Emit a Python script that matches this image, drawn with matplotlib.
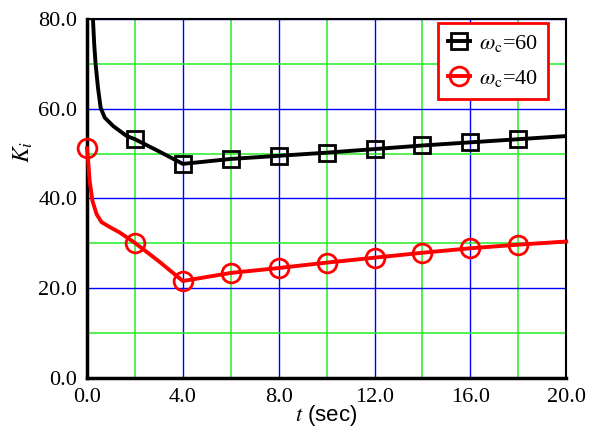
import matplotlib.pyplot as plt
import numpy as np

plt.rcParams['font.family'] = ['Liberation Serif', 'DejaVu Serif']
plt.rcParams['mathtext.fontset'] = 'stix'

# gain K_i over time for two cutoff frequencies
t_60 = [0.24, 0.3, 0.36, 0.46, 0.57, 0.74, 1.1, 1.66, 2, 3, 4,
        6, 8, 10, 12, 14, 16, 18, 20]
k_60 = [81, 74.5, 69.9, 64.6, 60.2, 58.0, 56.1, 53.9, 53.2, 50.5, 47.7,
        48.8, 49.5, 50.2, 51.0, 51.8, 52.5, 53.2, 53.9]

t_40 = [0, 0.05, 0.11, 0.23, 0.4, 0.61, 0.96, 1.37, 2, 3, 4,
        6, 8, 10, 12, 14, 16, 18, 20]
k_40 = [51.2, 48.3, 43.9, 39.4, 36.5, 34.7, 33.6, 32.4, 30.1, 26.0, 21.6,
        23.4, 24.5, 25.7, 26.8, 27.9, 28.9, 29.7, 30.4]

mark_t_60 = [2, 4, 6, 8, 10, 12, 14, 16, 18]
mark_t_40 = [0, 2, 4, 6, 8, 10, 12, 14, 16, 18]

x_ticks = [0, 4, 8, 12, 16, 20]
y_ticks = [0, 20, 40, 60, 80]

fig = plt.figure(figsize=(6.02, 4.30), dpi=100)
ax = fig.add_axes([0.1445, 0.121, 0.796, 0.835])

ax.set_xlim(0, 20)
ax.set_ylim(0, 80)
ax.set_xticks(x_ticks)
ax.set_yticks(y_ticks)
ax.set_xticks(np.arange(2, 20, 4), minor=True)
ax.set_yticks(np.arange(10, 80, 20), minor=True)
ax.set_xticklabels([f'{v:.1f}' for v in x_ticks])
ax.set_yticklabels([f'{v:.1f}' for v in y_ticks])
ax.tick_params(which='both', length=0, labelsize=16, pad=7)

ax.grid(which='major', color='#0000ff', linewidth=1.0)
ax.grid(which='minor', color='#22ee22', linewidth=1.1)
ax.set_axisbelow(True)

ax.spines['left'].set_linewidth(2.5)
ax.spines['bottom'].set_linewidth(2.5)
ax.spines['top'].set_linewidth(1.5)
ax.spines['right'].set_linewidth(1.5)

idx_60 = [i for i, v in enumerate(t_60) if v in mark_t_60]
idx_40 = [i for i, v in enumerate(t_40) if v in mark_t_40]

ax.plot(t_60, k_60, color='black', linewidth=2.8, marker='s', markersize=12,
        markerfacecolor='none', markeredgewidth=2, markevery=idx_60,
        label=r'$\omega_{\rm c}$=60', zorder=3)
ax.plot(t_40, k_40, color='#ff0000', linewidth=2.8, marker='o', markersize=13.5,
        markerfacecolor='none', markeredgewidth=2, markevery=idx_40,
        label=r'$\omega_{\rm c}$=40', zorder=3, clip_on=False)

leg = ax.legend(loc='upper right', bbox_to_anchor=(0.962, 0.988), fontsize=16,
                fancybox=False, framealpha=1, edgecolor='#ff0000',
                handlelength=1.0, handletextpad=0.4, borderpad=0.45,
                labelspacing=0.6, borderaxespad=0)
leg.get_frame().set_linewidth(2)

ax.set_xlabel(r'$t$ (sec)', fontsize=16, fontfamily='Liberation Sans', labelpad=-3)
ax.set_ylabel(r'$K_i$', fontsize=17)
ax.yaxis.set_label_coords(-0.108, 0.63)

fig.savefig('out.png', dpi=100)
